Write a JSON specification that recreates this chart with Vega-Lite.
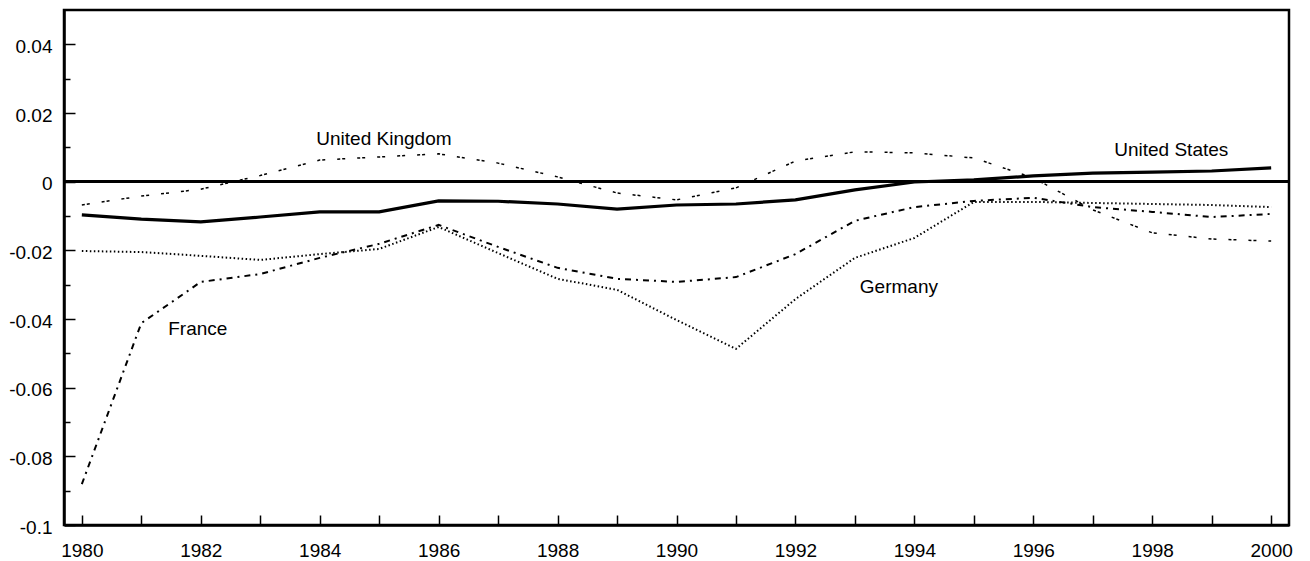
{
  "$schema": "https://vega.github.io/schema/vega-lite/v6.json",
  "autosize": "none",
  "width": 1225,
  "height": 515,
  "padding": {"left": 64, "top": 10, "right": 21, "bottom": 36},
  "background": "white",
  "config": {
    "view": {"stroke": "black", "strokeWidth": 2.5},
    "axis": {
      "domainColor": "black", "domainWidth": 2.5, "tickColor": "black", "tickWidth": 1.5,
      "labelFont": "Liberation Sans", "labelFontSize": 19, "labelColor": "black",
      "grid": false, "title": null
    },
    "text": {"font": "Liberation Sans", "fontSize": 19, "color": "black"}
  },
  "datasets": {
    "series": [
      {"year": 1980, "country": "United States", "value": -0.0097},
      {"year": 1981, "country": "United States", "value": -0.0109},
      {"year": 1982, "country": "United States", "value": -0.0117},
      {"year": 1983, "country": "United States", "value": -0.0103},
      {"year": 1984, "country": "United States", "value": -0.0088},
      {"year": 1985, "country": "United States", "value": -0.0088},
      {"year": 1986, "country": "United States", "value": -0.0056},
      {"year": 1987, "country": "United States", "value": -0.0057},
      {"year": 1988, "country": "United States", "value": -0.0065},
      {"year": 1989, "country": "United States", "value": -0.0080},
      {"year": 1990, "country": "United States", "value": -0.0068},
      {"year": 1991, "country": "United States", "value": -0.0065},
      {"year": 1992, "country": "United States", "value": -0.0053},
      {"year": 1993, "country": "United States", "value": -0.0024},
      {"year": 1994, "country": "United States", "value": -0.0001},
      {"year": 1995, "country": "United States", "value": 0.0005},
      {"year": 1996, "country": "United States", "value": 0.0017},
      {"year": 1997, "country": "United States", "value": 0.0025},
      {"year": 1998, "country": "United States", "value": 0.0028},
      {"year": 1999, "country": "United States", "value": 0.0031},
      {"year": 2000, "country": "United States", "value": 0.0040},

      {"year": 1980, "country": "United Kingdom", "value": -0.0068},
      {"year": 1981, "country": "United Kingdom", "value": -0.0042},
      {"year": 1982, "country": "United Kingdom", "value": -0.0022},
      {"year": 1983, "country": "United Kingdom", "value": 0.0018},
      {"year": 1984, "country": "United Kingdom", "value": 0.0063},
      {"year": 1985, "country": "United Kingdom", "value": 0.0072},
      {"year": 1986, "country": "United Kingdom", "value": 0.0081},
      {"year": 1987, "country": "United Kingdom", "value": 0.0054},
      {"year": 1988, "country": "United Kingdom", "value": 0.0014},
      {"year": 1989, "country": "United Kingdom", "value": -0.0033},
      {"year": 1990, "country": "United Kingdom", "value": -0.0053},
      {"year": 1991, "country": "United Kingdom", "value": -0.0018},
      {"year": 1992, "country": "United Kingdom", "value": 0.0060},
      {"year": 1993, "country": "United Kingdom", "value": 0.0087},
      {"year": 1994, "country": "United Kingdom", "value": 0.0084},
      {"year": 1995, "country": "United Kingdom", "value": 0.0069},
      {"year": 1996, "country": "United Kingdom", "value": 0.0011},
      {"year": 1997, "country": "United Kingdom", "value": -0.0082},
      {"year": 1998, "country": "United Kingdom", "value": -0.0149},
      {"year": 1999, "country": "United Kingdom", "value": -0.0167},
      {"year": 2000, "country": "United Kingdom", "value": -0.0173},

      {"year": 1980, "country": "Germany", "value": -0.0202},
      {"year": 1981, "country": "Germany", "value": -0.0205},
      {"year": 1982, "country": "Germany", "value": -0.0216},
      {"year": 1983, "country": "Germany", "value": -0.0228},
      {"year": 1984, "country": "Germany", "value": -0.0211},
      {"year": 1985, "country": "Germany", "value": -0.0196},
      {"year": 1986, "country": "Germany", "value": -0.0132},
      {"year": 1987, "country": "Germany", "value": -0.0208},
      {"year": 1988, "country": "Germany", "value": -0.0283},
      {"year": 1989, "country": "Germany", "value": -0.0315},
      {"year": 1990, "country": "Germany", "value": -0.0403},
      {"year": 1991, "country": "Germany", "value": -0.0487},
      {"year": 1992, "country": "Germany", "value": -0.0342},
      {"year": 1993, "country": "Germany", "value": -0.0222},
      {"year": 1994, "country": "Germany", "value": -0.0164},
      {"year": 1995, "country": "Germany", "value": -0.0059},
      {"year": 1996, "country": "Germany", "value": -0.0059},
      {"year": 1997, "country": "Germany", "value": -0.0062},
      {"year": 1998, "country": "Germany", "value": -0.0065},
      {"year": 1999, "country": "Germany", "value": -0.0068},
      {"year": 2000, "country": "Germany", "value": -0.0074},

      {"year": 1980, "country": "France", "value": -0.0881},
      {"year": 1981, "country": "France", "value": -0.0412},
      {"year": 1982, "country": "France", "value": -0.0292},
      {"year": 1983, "country": "France", "value": -0.0269},
      {"year": 1984, "country": "France", "value": -0.0222},
      {"year": 1985, "country": "France", "value": -0.0181},
      {"year": 1986, "country": "France", "value": -0.0126},
      {"year": 1987, "country": "France", "value": -0.0190},
      {"year": 1988, "country": "France", "value": -0.0251},
      {"year": 1989, "country": "France", "value": -0.0283},
      {"year": 1990, "country": "France", "value": -0.0292},
      {"year": 1991, "country": "France", "value": -0.0278},
      {"year": 1992, "country": "France", "value": -0.0211},
      {"year": 1993, "country": "France", "value": -0.0114},
      {"year": 1994, "country": "France", "value": -0.0074},
      {"year": 1995, "country": "France", "value": -0.0056},
      {"year": 1996, "country": "France", "value": -0.0047},
      {"year": 1997, "country": "France", "value": -0.0074},
      {"year": 1998, "country": "France", "value": -0.0088},
      {"year": 1999, "country": "France", "value": -0.0103},
      {"year": 2000, "country": "France", "value": -0.0094}
    ],
    "labels": [
      {"label": "United Kingdom", "year": 1985.08, "value": 0.0123},
      {"label": "United States", "year": 1998.32, "value": 0.0092},
      {"label": "Germany", "year": 1993.74, "value": -0.0308},
      {"label": "France", "year": 1981.95, "value": -0.0428}
    ]
  },
  "data": {"name": "series"},
  "layer": [
    {
      "transform": [{"filter": "datum.country == 'United States'"}],
      "mark": {"type": "line", "color": "black", "strokeWidth": 3.2},
      "encoding": {
        "x": {
          "field": "year", "type": "quantitative",
          "scale": {"domain": [1979.7, 2000.3], "nice": false, "zero": false},
          "axis": {
            "values": [1980,1981,1982,1983,1984,1985,1986,1987,1988,1989,1990,1991,1992,1993,1994,1995,1996,1997,1998,1999,2000],
            "labelExpr": "datum.value % 2 == 0 ? '' + datum.value : ''",
            "tickSize": -10, "labelPadding": 26, "labelFlush": false, "labelOverlap": false
          }
        },
        "y": {
          "field": "value", "type": "quantitative",
          "scale": {"domain": [-0.1, 0.05], "nice": false, "zero": false},
          "axis": {
            "orient": "left",
            "values": [-0.1, -0.08, -0.06, -0.04, -0.02, 0, 0.02, 0.04],
            "labelExpr": "'' + datum.value",
            "tickSize": -11, "labelPadding": 23, "labelOffset": 2, "labelFlush": false, "labelOverlap": false
          }
        }
      }
    },
    {
      "transform": [{"filter": "datum.country == 'United Kingdom'"}],
      "mark": {"type": "line", "color": "black", "strokeWidth": 1.5, "strokeDash": [3, 2, 3, 12]},
      "encoding": {
        "x": {"field": "year", "type": "quantitative"},
        "y": {"field": "value", "type": "quantitative", "axis": null}
      }
    },
    {
      "transform": [{"filter": "datum.country == 'Germany'"}],
      "mark": {"type": "line", "color": "black", "strokeWidth": 2, "strokeDash": [1.5, 2.5]},
      "encoding": {
        "x": {"field": "year", "type": "quantitative"},
        "y": {"field": "value", "type": "quantitative", "axis": null}
      }
    },
    {
      "transform": [{"filter": "datum.country == 'France'"}],
      "mark": {"type": "line", "color": "black", "strokeWidth": 2, "strokeDash": [6, 5, 2, 5]},
      "encoding": {
        "x": {"field": "year", "type": "quantitative"},
        "y": {"field": "value", "type": "quantitative", "axis": null}
      }
    },
    {
      "mark": {"type": "rule", "color": "black", "strokeWidth": 2.5},
      "encoding": {
        "y": {
          "datum": 0, "type": "quantitative",
          "axis": {
            "orient": "left",
            "values": [-0.09, -0.07, -0.05, -0.03, -0.01, 0.01, 0.03],
            "labels": false, "domain": false, "tickSize": -6
          }
        }
      }
    },
    {
      "data": {"name": "labels"},
      "mark": {"type": "text", "align": "center", "baseline": "middle"},
      "encoding": {
        "x": {"field": "year", "type": "quantitative"},
        "y": {"field": "value", "type": "quantitative", "axis": null},
        "text": {"field": "label", "type": "nominal"}
      }
    }
  ],
  "resolve": {"axis": {"y": "independent"}}
}
